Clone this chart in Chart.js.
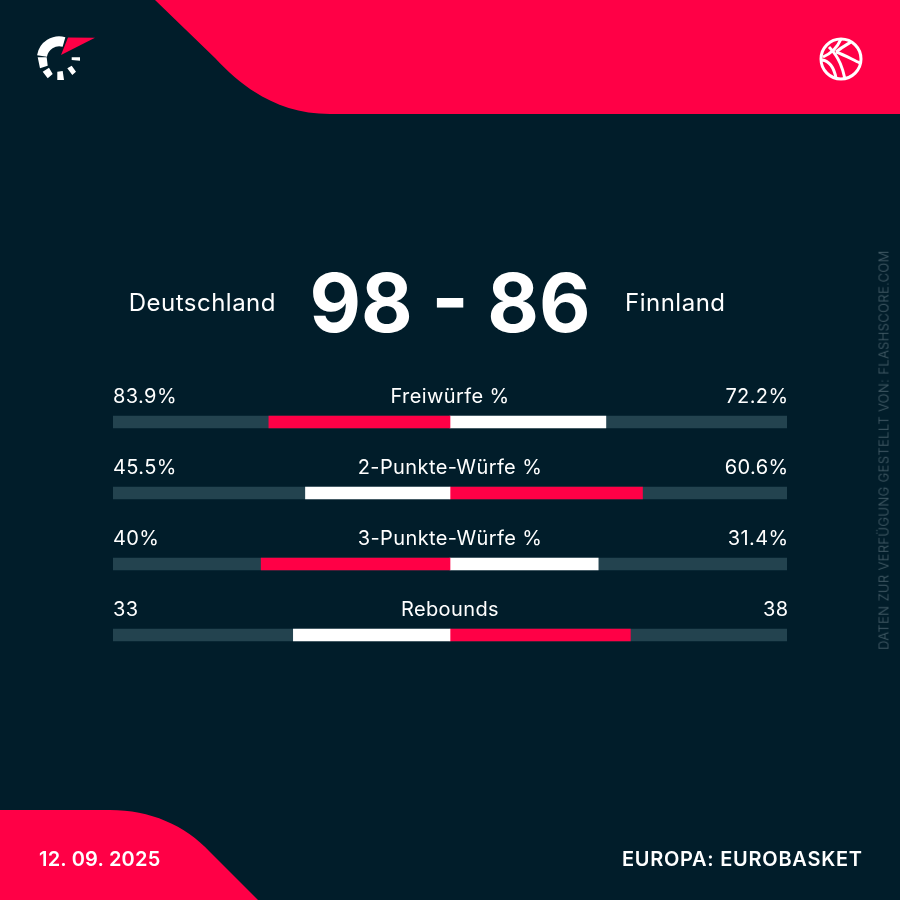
<!DOCTYPE html>
<html lang="de">
<head>
<meta charset="utf-8">
<title>Deutschland - Finnland</title>
<script src="https://cdn.jsdelivr.net/npm/chart.js@4"></script>
<style>
  html, body { margin: 0; padding: 0; background: #011d2a; }
  #page { position: relative; width: 900px; height: 900px; overflow: hidden; background: #011d2a; font-family: Inter, "Noto Sans", sans-serif; color: #fff; }
  #page svg, #page canvas { position: absolute; left: 0; top: 0; }
  .txt { position: absolute; white-space: nowrap; line-height: 1; }
</style>
</head>
<body>
<div id="page">
  <svg width="900" height="900" viewBox="0 0 900 900">
    <path fill="#ff0046" d="M155 0 L215 58 C245 90 280 114 330 114 L900 114 L900 0 Z"/>
    <path fill="#ff0046" d="M0 810 L110 810 C150 810 185 825 210 852 L258 900 L0 900 Z"/>
    <!-- logo -->
    <path fill="#ff0046" d="M68 37.5 L95 37.7 L61 55 Z"/>
    <path fill="none" stroke="#fff" stroke-width="10" d="M42 56 A 17.5 17.5 0 0 1 64 42"/>
    <path fill="#fff" d="M37.7 57.3 L46.7 57.3 L47.7 65.7 L40 68.3 Z M42.7 71.7 L49 67.7 L52.7 74 L47.7 78.3 Z M57.3 71.7 L62.7 71 L64 80 L57.3 80 Z M67.3 68.3 L71.7 65.7 L76 71.7 L72.3 75 Z M71.7 57.3 L80 57.3 L80 60.7 L71.7 60 Z"/>
    <!-- ball -->
    <g fill="none" stroke="#fff" stroke-width="3">
      <circle cx="841" cy="59" r="20"/>
      <path d="M829 47 C840 58 843 70 845 79"/>
      <path d="M822 60 C830 61 834 68 836 78"/>
      <path d="M841 39 C838 46 832 53 823 57"/>
      <path d="M851 42 C846 45 842 47 836 52"/>
      <path d="M836 52 C845 55 853 60 860 63"/>
    </g>
  </svg>
  <canvas id="statsChart" width="900" height="900"></canvas>
  <div class="txt" id="home" style="right:624px;top:291px;font-size:24px;letter-spacing:.5px;">Deutschland</div>
  <div class="txt" id="away" style="left:625px;top:291px;font-size:24px;letter-spacing:.5px;">Finnland</div>
  <div class="txt" id="score" style="left:0;width:900px;text-align:center;top:263px;font-size:81px;font-weight:700;transform:scaleX(.98);">98 - 86</div>
  <div class="txt" id="date" style="left:39px;top:849px;font-size:20px;font-weight:600;letter-spacing:.2px;">12. 09. 2025</div>
  <div class="txt" id="league" style="right:37.3px;top:849px;font-size:20px;font-weight:600;letter-spacing:.73px;">EUROPA: EUROBASKET</div>
  <div class="txt" id="credit" style="left:884px;top:450px;font-size:13px;font-weight:300;letter-spacing:.375px;color:#475f6a;transform:translate(-50%,-50%) rotate(-90deg);">DATEN ZUR VERFÜGUNG GESTELLT VON: FLASHSCORE.COM</div>
</div>
<script>
const categories = ['Freiwürfe %', '2-Punkte-Würfe %', '3-Punkte-Würfe %', 'Rebounds'];
const homeValues = [83.9, 45.5, 40, 33];
const awayValues = [72.2, 60.6, 31.4, 38];
const homeLabels = ['83.9%', '45.5%', '40%', '33'];
const awayLabels = ['72.2%', '60.6%', '31.4%', '38'];

const RED = '#ff0046';
const WHITE = '#ffffff';
const TRACK = '#23434f';

// each side fills its share of the row, the bigger one is red
const homeShare = homeValues.map((v, i) => -v / (v + awayValues[i]));
const awayShare = awayValues.map((v, i) => v / (v + homeValues[i]));
const homeColors = homeValues.map((v, i) => v > awayValues[i] ? RED : WHITE);
const awayColors = awayValues.map((v, i) => v > homeValues[i] ? RED : WHITE);

// value and stat name above each bar
const rowLabels = {
    id: 'rowLabels',
    afterDatasetsDraw(chart) {
        const { ctx, scales: { x, y } } = chart;
        ctx.save();
        ctx.font = '20px Inter, "Noto Sans", sans-serif';
        ctx.letterSpacing = '0.4px';
        ctx.fillStyle = '#fff';
        ctx.textBaseline = 'alphabetic';
        categories.forEach((name, i) => {
            const py = y.getPixelForValue(i) - 19;
            ctx.textAlign = 'left';
            ctx.fillText(homeLabels[i], x.left, py);
            ctx.textAlign = 'center';
            ctx.fillText(name, x.getPixelForValue(0), py);
            ctx.textAlign = 'right';
            ctx.fillText(awayLabels[i], x.right + 1.5, py);
        });
        ctx.restore();
    }
};

new Chart(document.getElementById('statsChart'), {
    type: 'bar',
    data: {
        labels: categories,
        datasets: [
            { data: homeShare, backgroundColor: homeColors, order: 1 },
            { data: awayShare, backgroundColor: awayColors, order: 1 },
            { data: categories.map(() => [-1, 1]), backgroundColor: TRACK, order: 2 }
        ]
    },
    options: {
        indexAxis: 'y',
        responsive: false,
        animation: false,
        devicePixelRatio: 1,
        layout: { padding: { left: 113, right: 113, top: 386.5, bottom: 229.5 } },
        datasets: { bar: { grouped: false, barThickness: 12, borderWidth: 0 } },
        plugins: { legend: { display: false }, title: { display: false }, tooltip: { enabled: false } },
        scales: {
            x: { display: false, min: -1, max: 1 },
            y: { display: false }
        }
    },
    plugins: [rowLabels]
});
</script>
</body>
</html>
